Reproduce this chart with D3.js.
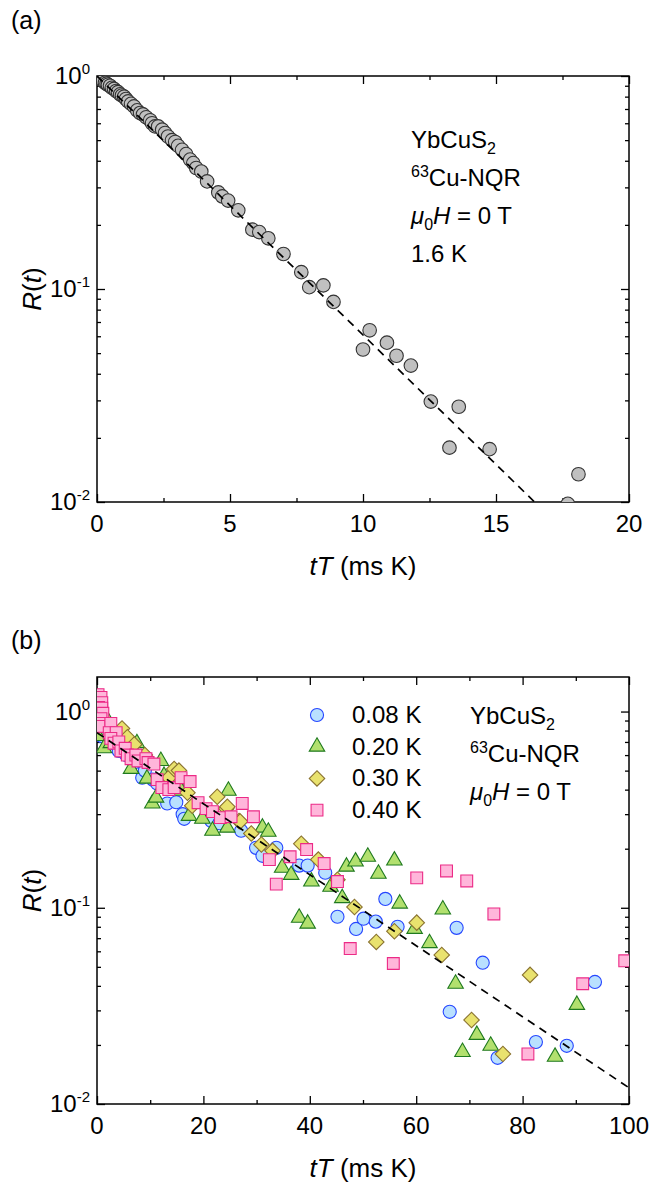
<!DOCTYPE html>
<html lang="en">
<head>
<meta charset="utf-8">
<title>YbCuS2 recovery</title>
<script src="https://cdn.jsdelivr.net/npm/d3@7"></script>
<style>
  body { margin: 0; background: #fff; }
  text { font-family: "Liberation Sans", Arial, sans-serif; fill: #000; }
</style>
</head>
<body>
<script>
// ---- data ----
// panel (a): 1.6 K
var aX = [0.22,0.30,0.36,0.41,0.49,0.56,0.64,0.72,0.79,0.87,0.94,1.02,1.09,1.17,1.28,1.39,1.51,1.62,1.73,1.85,2.00,2.07,2.18,2.30,2.45,2.56,2.67,2.82,2.94,3.05,3.20,3.35,3.50,3.62,3.73,3.92,4.14,4.56,4.71,4.93,5.31,5.84,6.10,6.44,7.01,7.68,7.98,8.51,8.89,10.25,10.0,10.9,11.26,11.8,12.55,13.6,13.25,14.76,18.1,17.7];
var aY = [0.95,0.93,0.92,0.91,0.90,0.88,0.87,0.85,0.84,0.82,0.81,0.80,0.78,0.76,0.74,0.72,0.69,0.67,0.66,0.64,0.62,0.60,0.58,0.58,0.56,0.54,0.52,0.50,0.49,0.47,0.45,0.43,0.405,0.39,0.37,0.356,0.32,0.284,0.272,0.26,0.234,0.19,0.185,0.173,0.146,0.12,0.102,0.104,0.087,0.064,0.052,0.056,0.0486,0.0437,0.0296,0.028,0.018,0.0177,0.0135,0.0098];
var aFitX = [0, 16.45];
var aFitY = [1.0, 0.01];

// panel (b): four temperatures
var labels = ["0.08 K", "0.20 K", "0.30 K", "0.40 K"];

var b08X = [0.5,0.9,1.5,2.5,3.5,4.1,5.5,7,8.5,9,10.5,11.3,13.2,14.9,16.1,16.4,21.5,23.0,27.1,29.9,31.1,33.7,38.0,39.6,42.9,45.2,48.7,50.1,52.4,54.2,56.5,66.3,67.6,72.5,75.3,82.5,88.3,93.6];
var b08Y = [0.9,0.75,0.8,0.72,0.68,0.63,0.6,0.55,0.46,0.5,0.45,0.43,0.34,0.345,0.30,0.284,0.277,0.27,0.247,0.202,0.184,0.202,0.164,0.164,0.151,0.090,0.078,0.088,0.085,0.111,0.080,0.0295,0.079,0.0525,0.0172,0.0207,0.0198,0.0419];

var b20X = [0.3,0.2,1.3,2.0,2.6,4.5,6.4,7.3,7.5,9.4,10.4,11.1,12.0,12.6,14.9,15.8,17.3,19.8,21.7,24.5,24.7,31.1,32.2,34.8,36.5,38.0,39.6,40.3,43.9,46.1,46.9,48.6,50.9,52.9,55.9,56.9,59.7,62.5,65.0,67.4,68.7,71.4,74.0,86.1,90.2];
var b20Y = [0.95,0.75,0.65,0.9,0.69,0.77,0.51,0.61,0.69,0.455,0.34,0.364,0.56,0.47,0.44,0.395,0.294,0.284,0.247,0.256,0.395,0.256,0.244,0.16,0.147,0.089,0.083,0.136,0.128,0.112,0.162,0.172,0.182,0.149,0.174,0.105,0.078,0.066,0.098,0.041,0.0184,0.0225,0.0198,0.0174,0.032];

var b30X = [0.5,1.2,2.0,3.0,4.7,5.7,7.0,9.0,13.5,14.5,15.4,17.0,17.9,22.6,24.3,24.5,26.7,26.9,29.0,30.9,33.0,38.4,41.6,45.2,48.4,52.5,55.9,60.1,64.8,70.4,76.3,81.4];
var b30Y = [0.95,0.88,0.85,0.8,0.82,0.74,0.68,0.6,0.46,0.51,0.5,0.386,0.331,0.368,0.32,0.327,0.277,0.275,0.239,0.21,0.195,0.212,0.176,0.139,0.101,0.067,0.076,0.084,0.0575,0.0268,0.018,0.0455];

var b40X = [0.2,0.75,0.9,0.3,0.9,1.1,0.75,0.9,0.4,2.6,2.3,3.6,2.6,3.2,4.1,4.5,5.3,5.7,6.4,7.3,7.7,9.2,9.6,10.7,11.3,12.2,13.5,14.5,15.8,17.5,19.0,20.5,21.7,23.2,25.2,27.3,29.4,32.4,33.7,36.3,39.4,42.7,45.2,47.6,55.7,60.1,65.7,69.5,74.6,81.0,91.3,99.2];
var b40Y = [1.22,1.18,1.11,1.05,1.04,0.98,0.92,0.87,0.84,0.87,0.78,0.78,0.73,0.69,0.70,0.63,0.65,0.60,0.575,0.60,0.56,0.575,0.55,0.54,0.45,0.41,0.40,0.41,0.46,0.44,0.343,0.32,0.309,0.288,0.291,0.34,0.291,0.176,0.132,0.182,0.198,0.168,0.136,0.062,0.052,0.142,0.154,0.137,0.093,0.018,0.041,0.0537];

var bFitX = [0, 100];
var bFitY = [0.78, 0.0121];

var xTicksA = [0, 5, 10, 15, 20];
var xTicksB = [0, 20, 40, 60, 80, 100];

// ---- drawing ----
var W = 651, H = 1184;
var svg = d3.select("body").append("svg").attr("width", W).attr("height", H);

var L = 97, R = 629;
var FS = 24;   // tick labels, annotations, legend

var styles = [
  {sym: d3.symbolCircle,   size: 135, rot: 0,  fill: "#b9e0ff", stroke: "#2646ff"},
  {sym: d3.symbolTriangle, size: 104, rot: 0,  fill: "#b2e06e", stroke: "#1f7a1f"},
  {sym: d3.symbolSquare,   size: 120, rot: 45, fill: "#e9e26e", stroke: "#8a7330"},
  {sym: d3.symbolSquare,   size: 140, rot: 0,  fill: "#ffb6da", stroke: "#ec2a86"}
];

function zip(xs, ys) { return xs.map(function(d, i) { return [d, ys[i]]; }); }

function panel(id, top, bottom, xDom, yDom, xMajor, xMinor, yMajor) {
  var x = d3.scaleLinear().domain(xDom).range([L, R]);
  var y = d3.scaleLog().domain(yDom).range([bottom, top]);
  var g = svg.append("g");

  g.append("clipPath").attr("id", "clip" + id)
    .append("rect").attr("x", L).attr("y", top).attr("width", R - L).attr("height", bottom - top);

  // minor y ticks
  var yMinor = [];
  [0.01, 0.1, 1].forEach(function(dec) {
    for (var k = 2; k <= 9; k++) {
      var v = dec * k;
      if (v > yDom[0] && v < yDom[1]) yMinor.push(v);
    }
  });

  function tickAxes(axisFn, scale, vals, size, tr) {
    g.append("g").attr("transform", tr)
      .call(axisFn(scale).tickValues(vals).tickSize(size).tickFormat(""))
      .call(function(s) { s.select(".domain").remove(); s.selectAll("line").attr("stroke-width", 1.3); });
  }
  tickAxes(d3.axisBottom, x, xMajor, -8, "translate(0," + bottom + ")");
  tickAxes(d3.axisBottom, x, xMinor, -4, "translate(0," + bottom + ")");
  tickAxes(d3.axisTop, x, xMajor, -8, "translate(0," + top + ")");
  tickAxes(d3.axisTop, x, xMinor, -4, "translate(0," + top + ")");
  tickAxes(d3.axisLeft, y, yMajor, -8, "translate(" + L + ",0)");
  tickAxes(d3.axisLeft, y, yMinor, -4, "translate(" + L + ",0)");
  tickAxes(d3.axisRight, y, yMajor, -8, "translate(" + R + ",0)");
  tickAxes(d3.axisRight, y, yMinor, -4, "translate(" + R + ",0)");

  g.append("rect").attr("x", L).attr("y", top).attr("width", R - L).attr("height", bottom - top)
    .attr("fill", "none").attr("stroke", "#000").attr("stroke-width", 1.5);

  // tick labels
  g.selectAll(".xl").data(xMajor).enter().append("text")
    .attr("x", function(d) { return x(d); }).attr("y", bottom + 30)
    .attr("text-anchor", "middle").attr("font-size", FS).text(function(d) { return d; });

  var yl = g.selectAll(".yl").data(yMajor).enter().append("text")
    .attr("x", L - 7).attr("y", function(d) { return y(d) + 8; })
    .attr("text-anchor", "end").attr("font-size", FS);
  yl.append("tspan").text("10");
  yl.append("tspan").attr("dy", -10).attr("font-size", 15)
    .text(function(d) { return Math.round(Math.log10(d)) === 0 ? "0" : Math.round(Math.log10(d)); });

  // axis titles
  var xt = g.append("text").attr("x", (L + R) / 2).attr("y", bottom + 73)
    .attr("text-anchor", "middle").attr("font-size", 26);
  xt.append("tspan").attr("font-style", "italic").text("tT");
  xt.append("tspan").text(" (ms K)");

  var yt = g.append("text").attr("transform", "translate(41," + (top + bottom) / 2 + ") rotate(-90)")
    .attr("text-anchor", "middle").attr("font-size", 26);
  yt.append("tspan").attr("font-style", "italic").text("R");
  yt.append("tspan").text("(");
  yt.append("tspan").attr("font-style", "italic").text("t");
  yt.append("tspan").text(")");

  return {x: x, y: y, g: g, clip: "url(#clip" + id + ")"};
}

function marks(p, pts, st) {
  p.g.append("g").attr("clip-path", p.clip)
    .selectAll("path").data(pts).enter().append("path")
    .attr("d", d3.symbol().type(st.sym).size(st.size))
    .attr("transform", function(d) { return "translate(" + p.x(d[0]) + "," + p.y(d[1]) + ") rotate(" + st.rot + ")"; })
    .attr("fill", st.fill).attr("stroke", st.stroke).attr("stroke-width", 1.1);
}

function fit(p, xs, ys) {
  p.g.append("path").datum(zip(xs, ys))
    .attr("clip-path", p.clip)
    .attr("d", d3.line().x(function(d) { return p.x(d[0]); }).y(function(d) { return p.y(d[1]); }))
    .attr("fill", "none").attr("stroke", "#000").attr("stroke-width", 1.7)
    .attr("stroke-dasharray", "8,6");
}

function annot(g, x0, y0, lines) {
  var dyLine = 38;
  var t1 = g.append("text").attr("x", x0).attr("y", y0).attr("font-size", FS);
  t1.append("tspan").text("YbCuS");
  t1.append("tspan").attr("font-size", 16).attr("dy", 6).text("2");
  var t2 = g.append("text").attr("x", x0).attr("y", y0 + dyLine).attr("font-size", FS);
  t2.append("tspan").attr("font-size", 16).attr("dy", -9).text("63");
  t2.append("tspan").attr("dy", 9).text("Cu-NQR");
  var t3 = g.append("text").attr("x", x0).attr("y", y0 + dyLine * 2).attr("font-size", FS);
  t3.append("tspan").attr("font-style", "italic").text("\u03bc");
  t3.append("tspan").attr("font-size", 16).attr("dy", 6).text("0");
  t3.append("tspan").attr("font-style", "italic").attr("dy", -6).text("H");
  t3.append("tspan").text(" = 0 T");
  if (lines > 3) {
    g.append("text").attr("x", x0).attr("y", y0 + dyLine * 3).attr("font-size", FS).text("1.6 K");
  }
}

// panel (a)
var pa = panel("a", 76, 502, [0, 20], [0.01, 1], xTicksA, [2.5, 7.5, 12.5, 17.5], [0.01, 0.1, 1]);
marks(pa, zip(aX, aY), {sym: d3.symbolCircle, size: 145, rot: 0, fill: "#c0c0c0", stroke: "#333"});
fit(pa, aFitX, aFitY);
annot(svg, 411, 148, 4);
svg.append("text").attr("x", 11).attr("y", 29).attr("font-size", 25).text("(a)");

// panel (b)
var pb = panel("b", 677, 1104, [0, 100], [0.01, 1.5], xTicksB, [10, 30, 50, 70, 90], [0.01, 0.1, 1]);
var series = [zip(b08X, b08Y), zip(b20X, b20Y), zip(b30X, b30Y), zip(b40X, b40Y)];
series.forEach(function(s, i) { marks(pb, s, styles[i]); });
fit(pb, bFitX, bFitY);
annot(svg, 470, 724, 3);
svg.append("text").attr("x", 11).attr("y", 649).attr("font-size", 25).text("(b)");

// legend
var lg = svg.append("g");
labels.forEach(function(lab, i) {
  var cy = 715 + i * 31.7, st = styles[i];
  lg.append("path").attr("d", d3.symbol().type(st.sym).size(st.size))
    .attr("transform", "translate(317," + cy + ") rotate(" + st.rot + ")")
    .attr("fill", st.fill).attr("stroke", st.stroke).attr("stroke-width", 1.1);
  lg.append("text").attr("x", 352).attr("y", cy + 8).attr("font-size", FS).text(lab);
});
</script>
</body>
</html>
